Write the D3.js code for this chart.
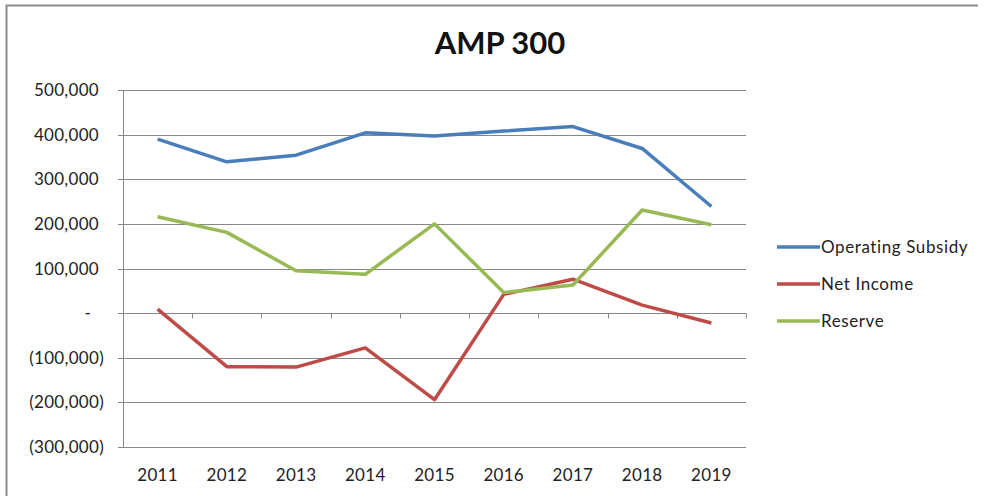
<!DOCTYPE html>
<html><head><meta charset="utf-8">
<script src="https://cdn.jsdelivr.net/npm/d3@7"></script>
<style>
html,body{margin:0;padding:0;background:#fff;}
svg{display:block;font-family:Lato,"Open Sans",sans-serif;}
</style></head>
<body><svg id="c" width="985" height="497"></svg>
<script>
const years = ["2011","2012","2013","2014","2015","2016","2017","2018","2019"];
const operatingSubsidy = [390000,339000,354000,404000,397000,408000,418000,369000,239000];
const netIncome = [9000,-120000,-121000,-78000,-194000,42000,76000,18000,-22000];
const reserve = [216000,181000,95000,87000,200000,46000,63000,231000,198000];
const yTicks = [500000,400000,300000,200000,100000,0,-100000,-200000,-300000];
const seriesNames = ["Operating Subsidy","Net Income","Reserve"];
const seriesColors = ["#4a7ebb","#be4b48","#98b954"];
const title = "AMP 300";

const svg = d3.select("#c");
const m = {left:123, right:746, top:90, bottom:447};

// outer frame
svg.append("path").attr("d","M6.5,496 V5.5 H978").attr("fill","none").attr("stroke","#8c8c8c").attr("stroke-width",2);

const x = d3.scaleBand().domain(years).range([m.left,m.right]);
const y = d3.scaleLinear().domain([-300000,500000]).range([m.bottom,m.top]);

// gridlines
svg.append("g").selectAll("line").data(yTicks).join("line")
  .attr("x1",m.left-5).attr("x2",m.right)
  .attr("y1",d=>Math.round(y(d))+0.5).attr("y2",d=>Math.round(y(d))+0.5)
  .attr("stroke","#868686").attr("stroke-width",1);
// y axis line
svg.append("line").attr("x1",m.left+0.5).attr("x2",m.left+0.5).attr("y1",m.top).attr("y2",m.bottom+0.5)
  .attr("stroke","#868686");
// y labels
function fmt(d){ if(d===0) return "-"; const s=d3.format(",")(Math.abs(d)); return d<0?"("+s+")":s; }
svg.append("g").selectAll("text").data(yTicks).join("text")
  .attr("x",d=>d<0?104:(d===0?91:99)).attr("y",d=>y(d)+6)
  .attr("text-anchor","end").attr("font-size",17).attr("letter-spacing",0.3).attr("fill","#222")
  .text(fmt);
// x ticks on zero axis
const y0 = Math.round(y(0))+0.5;
const bounds = years.slice(1).map(d=>x(d)).concat([m.right]);
svg.append("g").selectAll("line").data(bounds).join("line")
  .attr("x1",d=>Math.round(d)+0.5).attr("x2",d=>Math.round(d)+0.5)
  .attr("y1",y0).attr("y2",y0+5).attr("stroke","#868686");
// x labels
svg.append("g").selectAll("text").data(years).join("text")
  .attr("x",d=>x(d)+x.bandwidth()/2).attr("y",481)
  .attr("text-anchor","middle").attr("font-size",17).attr("letter-spacing",0.3).attr("fill","#222").text(d=>d);

// lines
const allSeries = [operatingSubsidy, netIncome, reserve];
const line = d3.line().x((d,i)=>x(years[i])+x.bandwidth()/2).y(d=>y(d));
allSeries.forEach((s,i)=>{
  svg.append("path").datum(s).attr("d",line).attr("fill","none")
    .attr("stroke",seriesColors[i]).attr("stroke-width",3.5).attr("stroke-linejoin","round");
});

// title
svg.append("text").attr("x",500).attr("y",54).attr("text-anchor","middle")
  .attr("font-size",31).attr("font-weight","bold").attr("fill","#111").text(title);

// legend
const lg = svg.append("g");
seriesNames.forEach((n,i)=>{
  const ly = 247 + i*37;
  lg.append("line").attr("x1",777).attr("x2",820).attr("y1",ly).attr("y2",ly)
    .attr("stroke",seriesColors[i]).attr("stroke-width",3.5);
  lg.append("text").attr("x",821).attr("y",ly+6).attr("font-size",17).attr("letter-spacing",0.6).attr("fill","#222").text(n);
});
</script></body></html>
